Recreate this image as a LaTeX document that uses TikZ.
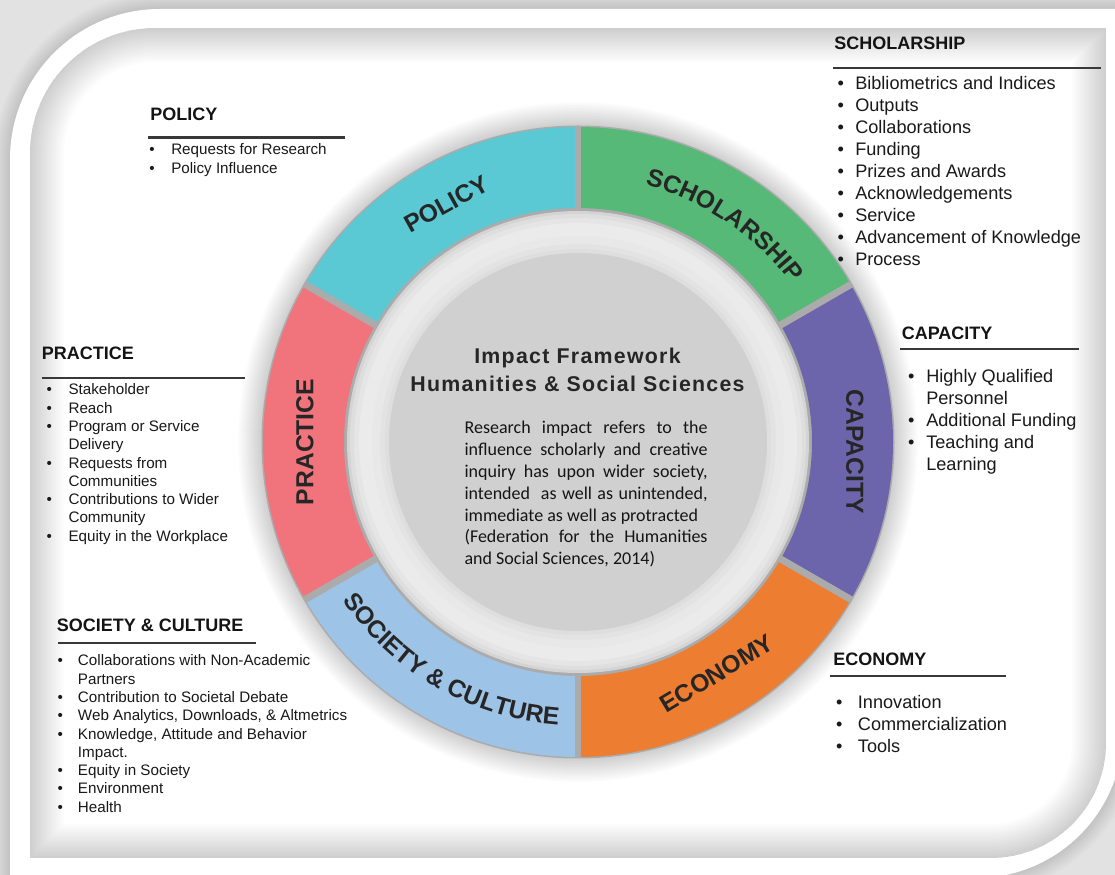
\documentclass[tikz,border=0pt]{standalone}
\usepackage{fontspec}
\setmainfont{Liberation Sans}
\newfontfamily\calfont{Carlito}
\usetikzlibrary{decorations.text}

\definecolor{policyc}{HTML}{5BC9D3}
\definecolor{scholc}{HTML}{56B977}
\definecolor{capc}{HTML}{6C65AC}
\definecolor{econc}{HTML}{ED7D31}
\definecolor{socc}{HTML}{9DC3E6}
\definecolor{pracc}{HTML}{F1737B}
\definecolor{ink}{HTML}{262626}
\definecolor{gapgray}{HTML}{ABABAB}
\definecolor{diskc}{HTML}{D1D0D1}
\definecolor{bggray}{HTML}{E2E2E2}

% bullet hanging to the left of an item
\newlength\bulletgap
\newcommand{\bitem}{\llap{\textbullet\hspace{\bulletgap}}}

\begin{document}
\begin{tikzpicture}[x=0.75pt,y=0.75pt,
  heading/.style={anchor=base west, inner sep=0pt, font=\fontsize{13.5}{15}\selectfont\bfseries, text=black!92},
  headrule/.style={line width=1.6pt, draw=black!78},
  smalllist/.style={anchor=base west, inner sep=0pt, font=\fontsize{11.4}{13.7}\selectfont, text=black!90},
  biglist/.style={anchor=base west, inner sep=0pt, font=\fontsize{13.6}{16.5}\selectfont, text=black!90},
  ringlabel/.style={inner sep=0pt, font=\fontsize{18.5}{20}\selectfont\bfseries, text=ink},
  gapline/.style={draw=gapgray, line width=5.2pt},
  outerframe/.style={insert path={(10,-3) -- (10,716) arc[start angle=180,end angle=90,radius=150] -- (1123,866) -- (1123,144) arc[start angle=0,end angle=-90,radius=147] -- cycle}},
  panel/.style={insert path={(30,17) -- (30,722) arc[start angle=180,end angle=90,radius=125] -- (1106,847) -- (1106,132) arc[start angle=0,end angle=-90,radius=115] -- cycle}},
]
\useasboundingbox (0,0) rectangle (1115,875);
\clip (0,0) rectangle (1115,875);

% ---------- frame ----------
\fill[bggray] (0,0) rectangle (1115,875);
\foreach \i in {1,...,10}
  \draw[line width=\i*2.4pt, black, opacity=0.012, outerframe];
\fill[white, outerframe];
\fill[white, panel];
\begin{scope}
  \clip[panel];
  \foreach \i in {1,...,16}
    \draw[line width=\i*3.2pt, black, opacity=0.011, panel];
\end{scope}

% ---------- ring ----------
\begin{scope}[shift={(578,433)}]
  % soft halo around the ring
  \foreach \i in {1,...,16}
    \fill[black, opacity=0.012] (0,0) circle[radius=316+\i*1.5];
  \fill[gapgray] (0,0) circle[radius=316.5];
  % light band between the ring and the disc
  \fill[black!17] (0,0) circle[radius=231];
  \fill[black!13] (0,0) circle[radius=228];
  \fill[black!10] (0,0) circle[radius=224];
  \fill[black!8] (0,0) circle[radius=219];
  \fill[black!9] (0,0) circle[radius=206];
  \fill[black!11] (0,0) circle[radius=198];
  \fill[black!13] (0,0) circle[radius=193];
  \fill[diskc] (0,0) circle[radius=189];

  % six segments
  \fill[scholc] (30:315) arc[start angle=30,end angle=90,radius=315] -- (90:234) arc[start angle=90,end angle=30,radius=234] -- cycle;
  \fill[policyc] (90:315) arc[start angle=90,end angle=150,radius=315] -- (150:234) arc[start angle=150,end angle=90,radius=234] -- cycle;
  \fill[pracc] (150:315) arc[start angle=150,end angle=210,radius=315] -- (210:234) arc[start angle=210,end angle=150,radius=234] -- cycle;
  \fill[socc] (210:315) arc[start angle=210,end angle=270,radius=315] -- (270:234) arc[start angle=270,end angle=210,radius=234] -- cycle;
  \fill[econc] (270:315) arc[start angle=270,end angle=330,radius=315] -- (330:234) arc[start angle=330,end angle=270,radius=234] -- cycle;
  \fill[capc] (330:315) arc[start angle=330,end angle=390,radius=315] -- (390:234) arc[start angle=390,end angle=330,radius=234] -- cycle;

  % gaps between segments
  \foreach \a in {90,30,-30,-90,-150,150}
    \draw[gapline] (\a:233) -- (\a:316);

  % segment labels
  \node[ringlabel, rotate=29] (lpol) at (119:272) {POLICY};
  \node[ringlabel, rotate=90] (lpra) at (180:273) {PRACTICE};
  \node[ringlabel, rotate=-90] (lcap) at (-2:277) {CAPACITY};
  \node[ringlabel, rotate=31] (leco) at (-59:270) {ECONOMY};
  \path[decorate, decoration={text along path, text align=center, text color=ink,
      text={|\fontsize{18.5}{20}\selectfont\bfseries|SCHOLARSHIP}}]
    (96:265.5) arc[start angle=96, end angle=16, radius=265.5];
  \path[decorate, decoration={text along path, text align=center, text color=ink,
      text={|\fontsize{18.5}{20}\selectfont\bfseries|SOCIETY {\&} CULTURE}}]
    (200:283.5) arc[start angle=200, end angle=280, radius=283.5];
\end{scope}

% ---------- centre text ----------
\node[anchor=base, inner sep=0pt, text=ink,
  font=\fontsize{16}{18}\selectfont\bfseries\addfontfeature{LetterSpace=6}] (title1) at (577.5,511.7) {Impact Framework};
\node[anchor=base, inner sep=0pt, text=ink,
  font=\fontsize{16}{18}\selectfont\bfseries\addfontfeature{LetterSpace=6}] (title2) at (577.5,483.3) {Humanities \& Social Sciences};
\node[anchor=base west, inner sep=0pt, text=black!92, font=\calfont\fontsize{13.5}{16.45}\selectfont] (desc) at (464.3,441.7)
  {\parbox[t]{182.25pt}{Research impact refers to the\linebreak
   influence scholarly and creative\linebreak
   inquiry has upon wider society,\linebreak
   intended\ \ as well as unintended,\linebreak
   immediate as well as protracted\newline
   (Federation for the Humanities\linebreak
   and Social Sciences, 2014)}};

% ---------- POLICY ----------
\node[heading] (hpol) at (150,754) {POLICY};
\coordinate (rpolA) at (148,737.5);
\coordinate (rpolB) at (345,737.5);
\draw[headrule] (rpolA) -- (rpolB);
\node[smalllist] (lpolL) at (171,720) {\setlength\bulletgap{12.4pt}%
  \begin{tabular}[t]{@{}l@{}}
  \bitem Requests for Research\\
  \bitem Policy Influence
  \end{tabular}};

% ---------- SCHOLARSHIP ----------
\node[heading] (hsch) at (834,825) {SCHOLARSHIP};
\coordinate (rschA) at (833,806.7);
\coordinate (rschB) at (1101,806.7);
\draw[headrule] (rschA) -- (rschB);
\node[biglist] (lschL) at (855,785.5) {\setlength\bulletgap{8.4pt}%
  \begin{tabular}[t]{@{}l@{}}
  \bitem Bibliometrics and Indices\\
  \bitem Outputs\\
  \bitem Collaborations\\
  \bitem Funding\\
  \bitem Prizes and Awards\\
  \bitem Acknowledgements\\
  \bitem Service\\
  \bitem Advancement of Knowledge\\
  \bitem Process
  \end{tabular}};

% ---------- CAPACITY ----------
\node[heading] (hcap) at (901.5,535.7) {CAPACITY};
\coordinate (rcapA) at (900,526);
\coordinate (rcapB) at (1079,526);
\draw[headrule] (rcapA) -- (rcapB);
\node[biglist] (lcapL) at (926,492.5) {\setlength\bulletgap{8.9pt}%
  \begin{tabular}[t]{@{}l@{}}
  \bitem Highly Qualified\\
  Personnel\\
  \bitem Additional Funding\\
  \bitem Teaching and\\
  Learning
  \end{tabular}};

% ---------- ECONOMY ----------
\node[heading] (heco) at (833,209.3) {ECONOMY};
\coordinate (recoA) at (830,199);
\coordinate (recoB) at (1005.5,199);
\draw[headrule] (recoA) -- (recoB);
\node[biglist] (lecoL) at (857.7,166.7) {\setlength\bulletgap{11.6pt}%
  \begin{tabular}[t]{@{}l@{}}
  \bitem Innovation\\
  \bitem Commercialization\\
  \bitem Tools
  \end{tabular}};

% ---------- PRACTICE ----------
\node[heading] (hpra) at (41.5,515) {PRACTICE};
\coordinate (rpraA) at (42,496.7);
\coordinate (rpraB) at (245,496.7);
\draw[headrule] (rpraA) -- (rpraB);
\node[smalllist] (lpraL) at (68.3,480) {\setlength\bulletgap{12.4pt}%
  \begin{tabular}[t]{@{}l@{}}
  \bitem Stakeholder\\
  \bitem Reach\\
  \bitem Program or Service\\
  Delivery\\
  \bitem Requests from\\
  Communities\\
  \bitem Contributions to Wider\\
  Community\\
  \bitem Equity in the Workplace
  \end{tabular}};

% ---------- SOCIETY & CULTURE ----------
\node[heading] (hsoc) at (56.5,243.3) {SOCIETY \& CULTURE};
\coordinate (rsocA) at (58,232.3);
\coordinate (rsocB) at (256,232.3);
\draw[headrule] (rsocA) -- (rsocB);
\node[smalllist] (lsocL) at (77.7,209) {\setlength\bulletgap{11.2pt}%
  \begin{tabular}[t]{@{}l@{}}
  \bitem Collaborations with Non-Academic\\
  Partners\\
  \bitem Contribution to Societal Debate\\
  \bitem Web Analytics, Downloads, \& Altmetrics\\
  \bitem Knowledge, Attitude and Behavior\\
  Impact.\\
  \bitem Equity in Society\\
  \bitem Environment\\
  \bitem Health
  \end{tabular}};
\end{tikzpicture}
\end{document}
